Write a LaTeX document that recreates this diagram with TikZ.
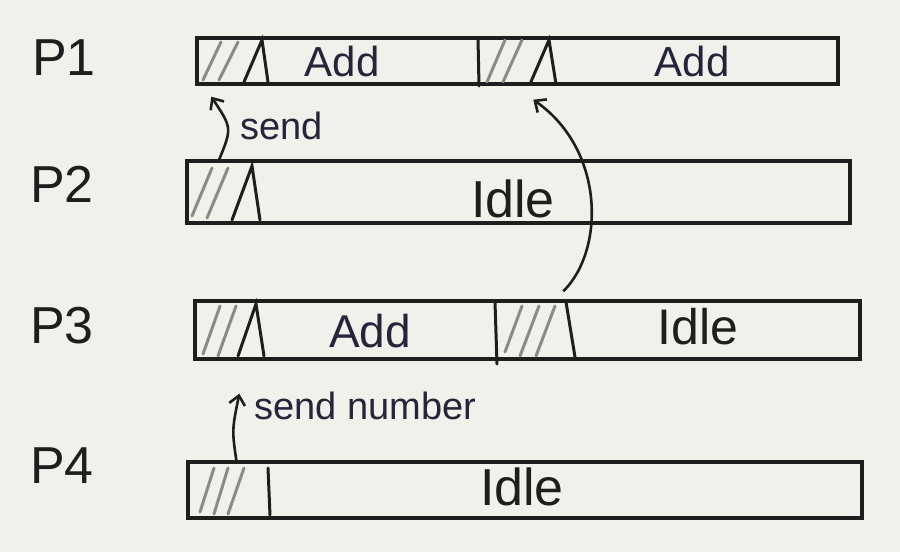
\documentclass[tikz,border=0pt]{standalone}
\usepackage{fontspec}
\setmainfont{Liberation Sans}
\usetikzlibrary{arrows.meta,calc}
\definecolor{paper}{HTML}{F1F0EA}
\definecolor{ink}{HTML}{1E1E1E}
\definecolor{pen}{HTML}{24243A}
\definecolor{hatchc}{HTML}{8A8A8A}
\begin{document}
\begin{tikzpicture}[x=1pt,y=-1pt,
  bar/.style={draw=ink,line width=3.4pt,rectangle,inner sep=0pt},
  sep/.style={draw=ink,line width=3pt,line cap=round},
  hatch/.style={draw=hatchc,line width=3pt,line cap=round},
  proc/.style={font=\fontsize{52}{52}\selectfont,text=ink,inner sep=0pt},
  lbl/.style={font=\fontsize{42}{42}\selectfont,text=pen,inner sep=0pt},
  idle/.style={font=\fontsize{52}{52}\selectfont,text=ink,inner sep=0pt},
  note/.style={font=\fontsize{38}{38}\selectfont,text=pen,inner sep=0pt,anchor=west},
  msg/.style={draw=ink,line width=2.6pt,-{Straight Barb[length=9pt,width=16pt,line width=2.6pt]}}]
\fill[paper] (0,0) rectangle (900,552);
\useasboundingbox (0,0) rectangle (900,552);

% process labels
\node[proc] (p1) at (64,58) {P1};
\node[proc] (p2) at (62,184) {P2};
\node[proc] (p3) at (62,326) {P3};
\node[proc] (p4) at (62,466) {P4};

% bars
\node[bar,minimum width=641pt,minimum height=46pt] (b1) at (517.5,61) {};
\node[bar,minimum width=663pt,minimum height=62pt] (b2) at (518.5,192) {};
\node[bar,minimum width=665pt,minimum height=58pt] (b3) at (527.5,330) {};
\node[bar,minimum width=674pt,minimum height=56pt] (b4) at (525,490) {};

% P1 cells
\draw[hatch] (203,80) -- (221,42) (219,80) -- (238,42);
\draw[sep] (244,82) -- (262,40) -- (268,82);
\draw[sep] (478,38) -- (479,86);
\draw[hatch] (487,82) -- (505,40) (503,82) -- (522,40);
\draw[sep] (530,84) -- (549,40) -- (556,84);
\node[lbl] (a1) at (342,61) {Add};
\node[lbl] (a2) at (692,61) {Add};

% P2 cells
\draw[hatch] (192,216) -- (212,168) (207,218) -- (228,168);
\draw[sep] (232,220) -- (252,166) -- (260,220);
\node[idle] (i2) at (513,199) {Idle};

% P3 cells
\draw[hatch] (203,354) -- (220,306) (218,356) -- (236,306);
\draw[sep] (238,356) -- (256,304) -- (264,356);
\draw[sep] (495,302) -- (497,364);
\draw[hatch] (505,352) -- (522,306) (520,356) -- (539,306) (536,356) -- (555,306);
\draw[sep] (566,302) -- (575,357);
\node[lbl,font=\fontsize{46}{46}\selectfont] (a3) at (370,331) {Add};
\node[idle,font=\fontsize{50}{50}\selectfont] (i3) at (698,327) {Idle};

% P4 cells
\draw[hatch] (200,512) -- (214,468) (214,514) -- (228,468) (228,514) -- (244,468);
\draw[sep] (268,468) -- (270,515);
\node[idle] (i4) at (522,487) {Idle};

% messages
\coordinate (s2) at ($(b2.north west)+(34,0)$);
\coordinate (t1) at ($(b1.south west)+(16,11)$);
\draw[msg] (s2) .. controls (232,128) .. (t1);
\node[note] (n1) at (240,126) {send};

\coordinate (s3) at ($(b3.north west)+(370,-8)$);
\coordinate (t2) at ($(b1.south west)+(338,14)$);
\draw[msg] (s3) .. controls (605,250) and (605,150) .. (t2);

\coordinate (s4) at ($(b4.north west)+(50,0)$);
\coordinate (t3) at ($(b3.south west)+(46,33)$);
\draw[msg] (s4) .. controls (232,430) .. (t3);
\node[note] (n2) at (254,406) {send number};
\end{tikzpicture}
\end{document}
